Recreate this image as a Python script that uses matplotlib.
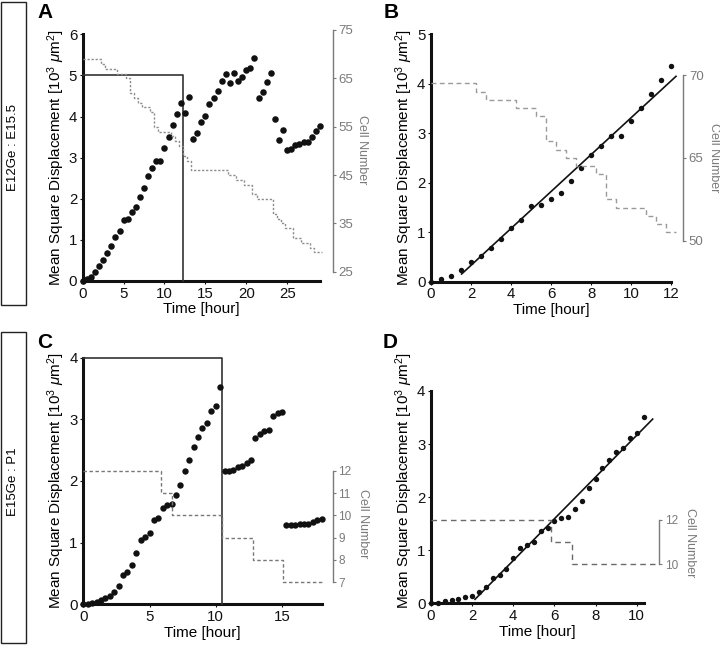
import numpy as np
import matplotlib
matplotlib.use("Agg")
import matplotlib.pyplot as plt
from matplotlib.patches import Rectangle

plt.rcParams['font.family'] = ['Liberation Sans', 'DejaVu Sans']
plt.rcParams['mathtext.fontset'] = 'custom'
plt.rcParams['mathtext.rm'] = 'Liberation Sans'
plt.rcParams['mathtext.it'] = 'Liberation Sans:italic'

# ---------------- data ----------------
# Panel A: MSD every 0.5 h, 0..29 h
msd_A = [0, 0.04, 0.10, 0.21, 0.37, 0.51, 0.67, 0.85, 1.08, 1.22, 1.49, 1.52, 1.67, 1.79,
         2.04, 2.27, 2.55, 2.76, 2.93, 2.93, 3.23, 3.50, 3.79, 4.06, 4.34, 4.08, 4.48, 3.45,
         3.61, 3.87, 4.01, 4.31, 4.46, 4.62, 4.87, 5.04, 4.81, 5.05, 4.86, 4.97, 5.12, 5.17,
         5.43, 4.46, 4.60, 4.84, 5.05, 3.95, 3.43, 3.68, 3.19, 3.21, 3.30, 3.34, 3.38, 3.38,
         3.50, 3.64, 3.78]
step_A = 0.5
cell_t_A = [0, 2.25, 2.75, 4.25, 5.25, 5.75, 6.25, 6.75, 7.25, 8.25, 8.75, 9.25, 10.75, 11.25,
            11.75, 12.25, 12.75, 13.25, 17.75, 18.75, 19.75, 20.75, 21.25, 23.25, 23.75, 24.25,
            24.75, 25.75, 26.75, 27.75, 28.25, 29.25]
cell_n_A = [69, 68, 67, 66, 65, 62, 61, 60, 59, 58, 55, 54, 53, 52, 51, 49, 48, 46, 45, 44, 43,
            41, 40, 37, 36, 35, 34, 32, 31, 30, 29, 29]
box_A = (12.3, 5.0)

# Panel B: first 12 h of A
msd_B = [0, 0.05, 0.12, 0.24, 0.39, 0.52, 0.69, 0.86, 1.09, 1.24, 1.52, 1.56, 1.68, 1.80,
         2.04, 2.29, 2.56, 2.75, 2.94, 2.94, 3.25, 3.52, 3.80, 4.07, 4.36]
step_B = 0.5
cell_t_B = [0, 2.25, 2.75, 4.25, 5.25, 5.75, 6.25, 6.75, 7.25, 8.25, 8.75, 9.25, 10.75, 11.25,
            11.75, 12.25]
cell_n_B = [69, 68, 67, 66, 65, 62, 61, 60, 59, 58, 55, 54, 53, 52, 51, 51]
fit_B = (0.3727, -0.415, 1.53, 12.25)   # slope, intercept, t start, t end

# Panel C: MSD every 1/3 h, 0..18 h
msd_C = [0, 0.005, 0.02, 0.04, 0.07, 0.10, 0.13, 0.20, 0.30, 0.47, 0.52, 0.64, 0.84, 1.04,
         1.09, 1.15, 1.36, 1.40, 1.56, 1.61, 1.62, 1.78, 1.93, 2.17, 2.34, 2.55, 2.71, 2.86,
         2.94, 3.14, 3.22, 3.52,
         2.16, 2.16, 2.18, 2.22, 2.25, 2.29, 2.34, 2.69, 2.77, 2.81, 2.83, 3.06, 3.11, 3.12,
         1.29, 1.29, 1.29, 1.30, 1.31, 1.31, 1.33, 1.36, 1.38]
step_C = 1.0 / 3.0
cell_t_C = [0, 5.85, 6.7, 10.5, 12.8, 15.1, 18.0]
cell_n_C = [12, 11, 10, 9, 8, 7, 7]
box_C = (10.5, 4.0)

# Panel D: first 10.33 h of C
msd_D = [0, 0.01, 0.04, 0.06, 0.09, 0.11, 0.14, 0.21, 0.31, 0.48, 0.53, 0.65, 0.85, 1.04,
         1.10, 1.15, 1.37, 1.41, 1.55, 1.61, 1.62, 1.78, 1.93, 2.18, 2.34, 2.54, 2.70, 2.85,
         2.93, 3.12, 3.20, 3.51]
step_D = 1.0 / 3.0
cell_t_D = [0, 5.83, 6.84, 10.9]
cell_n_D = [12, 11, 10, 10]
fit_D = (0.393, -0.766, 2.14, 10.78)

row_labels = ['E12Ge : E15.5', 'E15Ge : P1']
panel_letters = ['A', 'B', 'C', 'D']
ylab = r'Mean Square Displacement [10$^3$ $\mathit{\mu}$m$^2$]'
xlab = 'Time [hour]'
cell_lab = 'Cell Number'

# ---------------- figure ----------------
W, H = 720, 649
fig = plt.figure(figsize=(W / 100, H / 100), dpi=100)
GRAY = '#7a7a7a'


def R(l, t, r, b):
    return [l / W, 1 - b / H, (r - l) / W, (b - t) / H]


def main_axes(l, t, r, b, xlim, ylim, xticks, yticks, ytop=None):
    ax = fig.add_axes(R(l, t, r, b), facecolor='none')
    ax.set_xlim(*xlim)
    ax.set_ylim(*ylim)
    for s in ['top', 'right']:
        ax.spines[s].set_visible(False)
    for s in ['left', 'bottom']:
        ax.spines[s].set_linewidth(2.2)
        ax.spines[s].set_color('#111111')
    if ytop is not None:
        ax.spines['left'].set_bounds(ylim[0], ytop)
    ax.set_xticks(xticks)
    ax.set_yticks(yticks)
    ax.tick_params(direction='out', length=2.5, width=0.8, labelsize=10.8, pad=1.5,
                   colors='#111111')
    ax.set_xlabel(xlab, fontsize=11, labelpad=1.2)
    ax.set_ylabel(ylab, fontsize=11, labelpad=1.5)
    return ax


def cell_axes(l, t, r, b, xlim, ylim, ticks, labels, out_px, fs):
    ax2 = fig.add_axes(R(l, t, r, b), facecolor='none')
    ax2.set_xlim(*xlim)
    ax2.set_ylim(*ylim)
    for s in ['top', 'left', 'bottom']:
        ax2.spines[s].set_visible(False)
    ax2.spines['right'].set_position(('outward', out_px * 0.72))
    ax2.spines['right'].set_color(GRAY)
    ax2.spines['right'].set_linewidth(1.0)
    ax2.set_xticks([])
    ax2.yaxis.tick_right()
    ax2.set_yticks(ticks)
    ax2.set_yticklabels(labels)
    ax2.tick_params(axis='y', direction='out', length=2.5, width=0.8, colors=GRAY,
                    labelsize=fs, pad=1.5)
    return ax2


def dots(ax, vals, dt, ms):
    t = np.arange(len(vals)) * dt
    ax.plot(t, vals, 'o', color='#111111', ms=ms, mec='none', clip_on=False, zorder=5)


def steps(ax, t, n, color, dashes, lw=1.0):
    ax.step(t, n, where='post', color=color, lw=lw, dashes=dashes, clip_on=False)


def fitline(ax, fit):
    k, c, t0, t1 = fit
    tt = np.array([t0, t1])
    ax.plot(tt, k * tt + c, color='#111111', lw=1.2, clip_on=False, zorder=4)


def box(ax, bx):
    x, y = bx
    ax.plot([0, x, x], [y, y, 0], color='#333333', lw=1.2, clip_on=False, zorder=3)


# Panel A
axA = main_axes(82.7, 34.3, 319.9, 281, (0, 29), (0, 6), [0, 5, 10, 15, 20, 25], range(7))
cA = cell_axes(82.7, 30, 319.9, 271.7, (0, 29), (25, 75), [25, 35, 45, 55, 65, 75],
               ['25', '35', '45', '55', '65', '75'], 12.8, 9.5)
steps(cA, cell_t_A, cell_n_A, '#8c8c8c', (1.6, 1.3))
box(axA, box_A)
dots(axA, msd_A, step_A, 4.7)

# Panel B
axB = main_axes(431, 34.3, 671, 281.7, (0, 12), (0, 5), [0, 2, 4, 6, 8, 10, 12], range(6))
cB = cell_axes(431, 75, 671, 240.7, (0, 12), (50, 70), [50, 60, 70], ['50', '65', '70'],
               12.3, 9.5)
steps(cB, cell_t_B, cell_n_B, '#9a9a9a', (3.5, 2.5))
fitline(axB, fit_B)
dots(axB, msd_B, step_B, 3.9)

# Panel C
axC = main_axes(83.3, 357.7, 321.7, 604.3, (0, 18), (0, 4), [0, 5, 10, 15], range(5))
cC = cell_axes(83.3, 470.7, 321.7, 582.3, (0, 18), (7, 12), [7, 8, 9, 10, 11, 12],
               ['7', '8', '9', '10', '11', '12'], 11.0, 8.5)
steps(cC, cell_t_C, cell_n_C, '#777777', (2.5, 1.8))
box(axC, box_C)
dots(axC, msd_C, step_C, 4.6)

# Panel D
axD = main_axes(431, 358.5, 643.5, 603.3, (0, 31 / 3), (0, (603.3 - 358.5) / 53.08),
                [0, 2, 4, 6, 8, 10], range(5), ytop=4)
cD = cell_axes(431, 520, 643.5, 564.3, (0, 31 / 3), (10, 12), [10, 12], ['10', '12'],
               15.5, 8.5)
steps(cD, cell_t_D, cell_n_D, '#6a6a6a', (4, 3))
fitline(axD, fit_D)
dots(axD, msd_D, step_D, 3.9)

# Cell-number labels
for (x, y) in [(362, 150), (714, 158), (363, 524), (690, 543)]:
    fig.text(x / W, 1 - y / H, cell_lab, rotation=-90, ha='center', va='center',
             color=GRAY, fontsize=9)

# Panel letters
for letter, (x, y) in zip(panel_letters, [(37, 3), (384, 3), (37, 333), (383, 333)]):
    fig.text(x / W, 1 - y / H, letter, fontsize=15, fontweight='bold', ha='left', va='top')

# Row label boxes
for lab, (t, b) in zip(row_labels, [(2, 305), (332, 643)]):
    fig.patches.append(Rectangle((0.8 / W, 1 - b / H), 25.5 / W, (b - t) / H,
                                 transform=fig.transFigure, fill=False, lw=1.0,
                                 edgecolor='#222222'))
    fig.text(13.5 / W, 1 - ((t + b) / 2 - 6) / H, lab, rotation=90, ha='center',
             va='center', fontsize=9.5)

fig.savefig('out.png', dpi=100)
